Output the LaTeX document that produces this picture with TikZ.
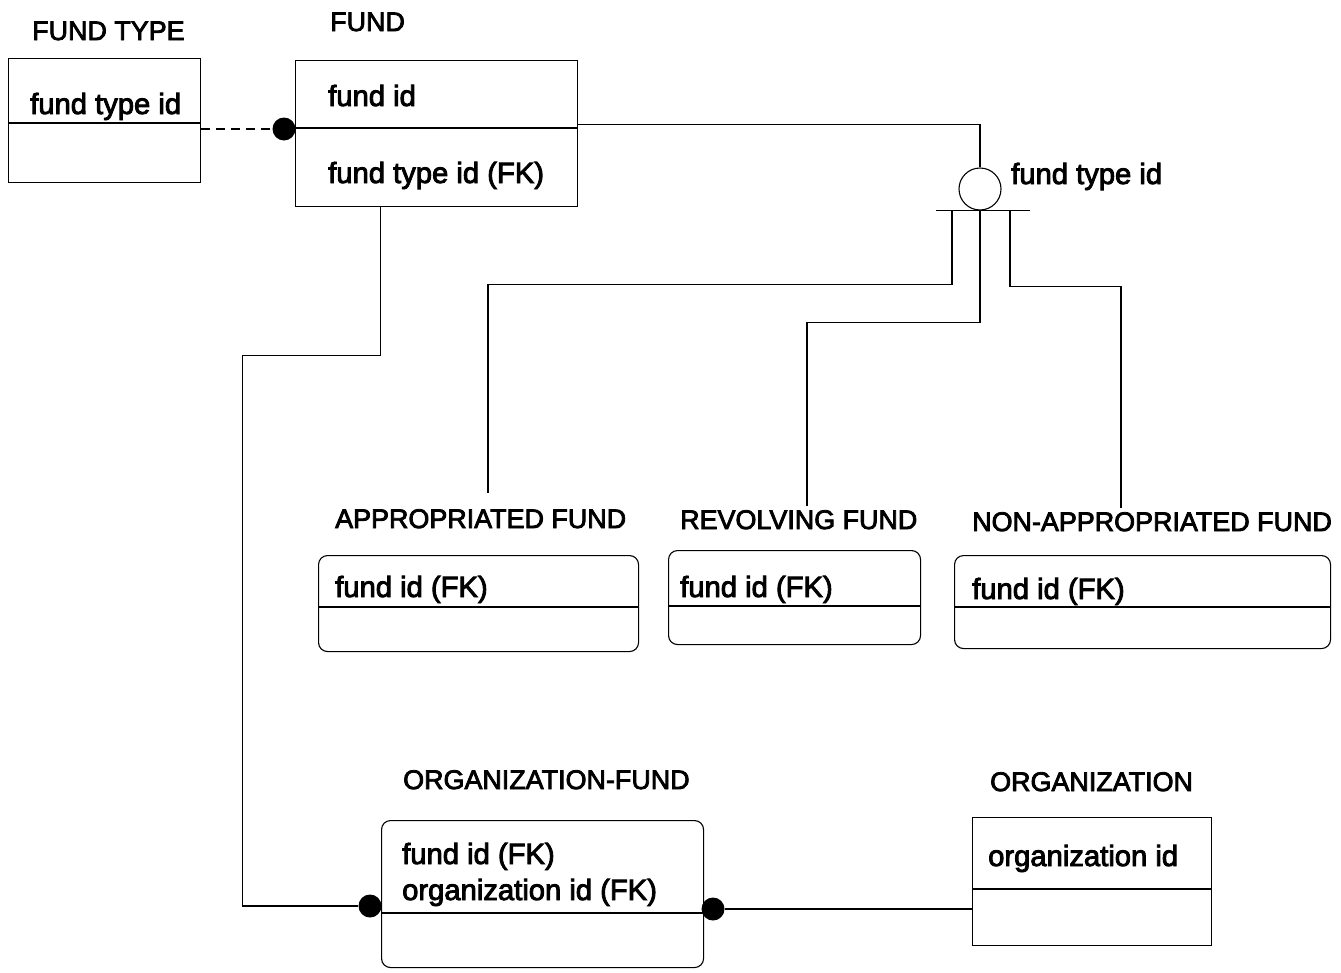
\documentclass[tikz,border=0pt]{standalone}
\usepackage{fontspec}
\setmainfont{Liberation Sans}
\newfontfamily\heavyfont{Liberation Sans}[FakeBold=3]
\usetikzlibrary{positioning}

\begin{document}
\begin{tikzpicture}[
    x=1pt, y=-1pt,
    entity/.style={draw, line width=1.1pt, anchor=north west, inner sep=0pt},
    depentity/.style={entity, rounded corners=9pt},
    etitle/.style={anchor=base west, inner sep=0pt, font=\heavyfont\fontsize{26.9}{30}\selectfont},
    attr/.style={anchor=base west, inner sep=0pt, font=\heavyfont\fontsize{29.2}{33}\selectfont},
    rel/.style={line width=1.1pt},
    nonid/.style={rel, dash pattern=on 9pt off 6pt},
    dot/.style={circle, fill, inner sep=0pt, minimum size=23pt}
  ]
  \useasboundingbox (0,0) rectangle (1341,972);

  % independent entities
  \node[etitle] (fundtypetitle) at (32,40) {FUND TYPE};
  \node[entity, minimum width=192pt, minimum height=124pt] (fundtype) at (8,58) {};
  \draw[rel] ([yshift=-65pt]fundtype.north west) -- ([yshift=-65pt]fundtype.north east);
  \node[attr] (fundtypekey) at (30,114) {fund type id};

  \node[etitle] (fundtitle) at (330,31) {FUND};
  \node[entity, minimum width=282pt, minimum height=146pt] (fund) at (295,60) {};
  \draw[rel] ([yshift=-68pt]fund.north west) -- ([yshift=-68pt]fund.north east);
  \node[attr] (fundkey) at (328,106) {fund id};
  \node[attr] (fundattr) at (328,183) {fund type id (FK)};

  \node[etitle] (orgtitle) at (990,791) {ORGANIZATION};
  \node[entity, minimum width=239pt, minimum height=128pt] (org) at (972,817) {};
  \draw[rel] ([yshift=-72pt]org.north west) -- ([yshift=-72pt]org.north east);
  \node[attr] (orgkey) at (988,866) {organization id};

  % subtypes
  \node[etitle] (apptitle) at (335,528) {APPROPRIATED FUND};
  \node[depentity, minimum width=320pt, minimum height=96pt] (app) at (318,555) {};
  \draw[rel] ([yshift=-52pt]app.north west) -- ([yshift=-52pt]app.north east);
  \node[attr] (appkey) at (335,597) {fund id (FK)};

  \node[etitle] (revtitle) at (680,529) {REVOLVING FUND};
  \node[depentity, minimum width=252pt, minimum height=94pt] (rev) at (668,550) {};
  \draw[rel] ([yshift=-56pt]rev.north west) -- ([yshift=-56pt]rev.north east);
  \node[attr] (revkey) at (680,597) {fund id (FK)};

  \node[etitle] (nonapptitle) at (972,531) {NON-APPROPRIATED FUND};
  \node[depentity, minimum width=376pt, minimum height=93pt] (nonapp) at (954,555) {};
  \draw[rel] ([yshift=-52pt]nonapp.north west) -- ([yshift=-52pt]nonapp.north east);
  \node[attr] (nonappkey) at (972,599) {fund id (FK)};

  % associative entity
  \node[etitle] (orgfundtitle) at (403,789) {ORGANIZATION-FUND};
  \node[depentity, minimum width=322pt, minimum height=147pt] (orgfund) at (381,820) {};
  \draw[rel] ([yshift=-93pt]orgfund.north west) -- ([yshift=-93pt]orgfund.north east);
  \node[attr] (orgfundkey1) at (402,864) {fund id (FK)};
  \node[attr] (orgfundkey2) at (402,900) {organization id (FK)};

  % relationships
  \node[dot] (dfund) at (284,129) {};
  \draw[nonid] (fundtype.east |- dfund) -- (dfund);

  \node[dot] (dorgfundl) at (370,906) {};
  \node[dot] (dorgfundr) at (713,909) {};
  \draw[rel] ([xshift=-56pt]fund.south) -- ++(0,148) -- ++(-138,0) |- (dorgfundl);
  \draw[rel] (dorgfundr) -- (org.west |- dorgfundr);

  % category discriminator
  \node[draw, circle, line width=1.1pt, minimum size=42pt, inner sep=0pt] (disc) at (980,189) {};
  \node[attr] (disclabel) at (1011,184) {fund type id};
  \draw[rel] ([xshift=-44pt]disc.south) -- ([xshift=50pt]disc.south);
  \draw[rel] ([yshift=9pt]fund.east) -| (disc.north);
  \draw[rel] ([xshift=-28pt]disc.south) -- ++(0,74) -| ([xshift=153pt, yshift=16pt]apptitle.north west);
  \draw[rel] (disc.south) -- ++(0,112) -| ([xshift=127pt, yshift=4pt]revtitle.north west);
  \draw[rel] ([xshift=30pt]disc.south) -- ++(0,76) -| ([xshift=149pt, yshift=4pt]nonapptitle.north west);
\end{tikzpicture}
\end{document}
